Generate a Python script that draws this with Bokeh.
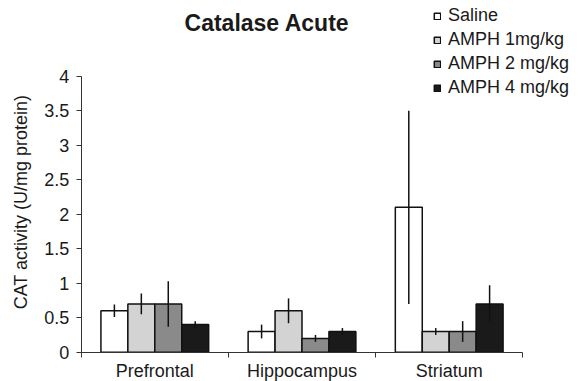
import math
from bokeh.plotting import figure
from bokeh.models import Range1d, FixedTicker, NumeralTickFormatter, Label
from bokeh.embed import file_html
from bokeh.resources import INLINE

# ---- data ----
categories = ["Prefrontal", "Hippocampus", "Striatum"]
series_names = ["Saline", "AMPH 1mg/kg", "AMPH 2 mg/kg", "AMPH 4 mg/kg"]
saline = [0.6, 0.3, 2.1]
saline_err = [0.09, 0.10, 1.40]
amph1 = [0.7, 0.6, 0.3]
amph1_err = [0.15, 0.18, 0.05]
amph2 = [0.7, 0.2, 0.3]
amph2_err = [0.33, 0.05, 0.15]
amph4 = [0.4, 0.3, 0.7]
amph4_err = [0.05, 0.05, 0.27]
y_ticks = [0, 0.5, 1, 1.5, 2, 2.5, 3, 3.5, 4]
y_max = 4
title_text = "Catalase Acute"
y_title = "CAT activity (U/mg protein)"

series_values = [saline, amph1, amph2, amph4]
series_errors = [saline_err, amph1_err, amph2_err, amph4_err]
series_colors = ["#ffffff", "#d3d3d3", "#8a8a8a", "#1a1a1a"]

# ---- layout (pixels) ----
W, H = 578, 381
AX_LEFT, AX_RIGHT = 80.7, 522.3      # pixel span of the x axis
AX_TOP, AX_BOTTOM = 75.7, 351.7      # pixel span of the y axis
n = len(categories)
sx = (AX_RIGHT - AX_LEFT) / n
sy = (AX_BOTTOM - AX_TOP) / y_max
x_range = Range1d(-AX_LEFT / sx, n + (W - AX_RIGHT) / sx)
y_range = Range1d(-(H - AX_BOTTOM) / sy, y_max + AX_TOP / sy)

FONT = "Liberation Sans"
TXT = "#1a1a1a"
AX = "#333333"
bar_w = 0.183

p = figure(width=W, height=H, output_backend="svg", toolbar_location=None,
           x_range=x_range, y_range=y_range,
           min_border_left=0, min_border_right=0, min_border_top=0,
           min_border_bottom=0)
p.outline_line_color = None
p.xgrid.visible = False
p.ygrid.visible = False

for j, (name, vals, col) in enumerate(zip(series_names, series_values, series_colors)):
    xs = [i + 0.5 + (j - 1.5) * bar_w for i in range(n)]
    p.vbar(x=xs, top=vals, bottom=0, width=bar_w, fill_color=col,
           line_color="#111111", line_width=1.5, legend_label=name)
for j, (vals, errs) in enumerate(zip(series_values, series_errors)):
    xs = [i + 0.5 + (j - 1.5) * bar_w for i in range(n)]
    p.segment(x0=xs, x1=xs, y0=[v - e for v, e in zip(vals, errs)],
              y1=[v + e for v, e in zip(vals, errs)],
              line_color="#111111", line_width=1.5)

# x axis: labels at group centres, ticks at group boundaries
xa = p.xaxis[0]
xa.fixed_location = 0
xa.bounds = (0, n)
xa.ticker = FixedTicker(ticks=[i + 0.5 for i in range(n)],
                        minor_ticks=list(range(n + 1)))
xa.major_label_overrides = {i + 0.5: c for i, c in enumerate(categories)}
xa.major_tick_line_color = None
xa.major_tick_out = 0
xa.major_tick_in = 0
xa.minor_tick_out = 5
xa.minor_tick_in = 0
xa.minor_tick_line_color = AX
xa.axis_line_color = AX
xa.major_label_standoff = 4
xa.major_label_text_font = FONT
xa.major_label_text_font_size = "18px"
xa.major_label_text_color = TXT

ya = p.yaxis[0]
ya.fixed_location = 0
ya.bounds = (0, y_max)
ya.ticker = FixedTicker(ticks=y_ticks, minor_ticks=[])
ya.formatter = NumeralTickFormatter(format="0.[0]")
ya.major_tick_out = 5
ya.major_tick_in = 0
ya.major_tick_line_color = AX
ya.axis_line_color = AX
ya.major_label_standoff = 7
ya.major_label_text_font = FONT
ya.major_label_text_font_size = "18px"
ya.major_label_text_color = TXT

# title and y-axis title (screen px from the bottom-left of the canvas)
p.add_layout(Label(x=266.5, y=H - 22, x_units="screen", y_units="screen",
                   text=title_text, text_font=FONT, text_font_size="23px",
                   text_font_style="bold", text_color=TXT,
                   text_align="center", text_baseline="middle"))
p.add_layout(Label(x=20, y=H - 201.5, x_units="screen", y_units="screen",
                   text=y_title, angle=math.pi / 2, text_font=FONT,
                   text_font_size="18px", text_color=TXT,
                   text_align="center", text_baseline="middle"))

leg = p.legend[0]
leg.location = (433, H - 98)
leg.padding = 0
leg.margin = 0
leg.border_line_color = None
leg.background_fill_alpha = 0
leg.label_text_font = FONT
leg.label_text_font_size = "18px"
leg.label_text_color = TXT
leg.glyph_width = 8
leg.glyph_height = 8
leg.label_standoff = 7
leg.spacing = 3
leg.label_height = 20

open("out.html", "w").write(file_html(p, INLINE))
